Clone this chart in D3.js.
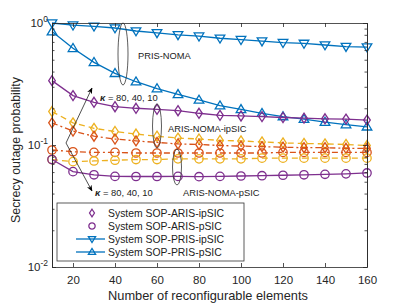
<!DOCTYPE html>
<html>
<head>
<meta charset="utf-8">
<script src="https://cdn.jsdelivr.net/npm/d3@7"></script>
<style>
  body { margin: 0; background: #fff; }
  text { font-family: "Liberation Sans", Arial, sans-serif; }
</style>
</head>
<body>
<div id="chart"></div>
<script>
// number of reconfigurable elements
var elements = [10, 20, 30, 40, 50, 60, 70, 80, 90, 100, 110, 120, 130, 140, 150, 160];

// ARIS, imperfect SIC (diamonds), kappa = 80, 40, 10
var arisIpsic80 = [0.337, 0.254, 0.224, 0.206, 0.200, 0.196, 0.191, 0.182, 0.175, 0.173, 0.171, 0.168, 0.166, 0.164, 0.163, 0.160];
var arisIpsic40 = [0.152, 0.130, 0.118, 0.112, 0.108, 0.105, 0.102, 0.101, 0.099, 0.098, 0.097, 0.096, 0.095, 0.095, 0.094, 0.094];
var arisIpsic10 = [0.188, 0.152, 0.137, 0.129, 0.123, 0.118, 0.114, 0.112, 0.109, 0.108, 0.106, 0.104, 0.103, 0.102, 0.101, 0.099];

// ARIS, perfect SIC (circles)
var arisPsic80 = [0.076, 0.0605, 0.057, 0.0553, 0.0552, 0.0552, 0.0553, 0.055, 0.0553, 0.0557, 0.056, 0.0565, 0.057, 0.0575, 0.058, 0.059];
var arisPsic40 = [0.091, 0.088, 0.087, 0.087, 0.086, 0.086, 0.086, 0.086, 0.086, 0.086, 0.086, 0.087, 0.087, 0.087, 0.087, 0.087];
var arisPsic10 = [0.076, 0.073, 0.074, 0.075, 0.076, 0.076, 0.077, 0.077, 0.077, 0.077, 0.078, 0.078, 0.078, 0.078, 0.078, 0.078];

// PRIS
var prisIpsic = [1.0, 0.96, 0.94, 0.91, 0.86, 0.83, 0.80, 0.78, 0.75, 0.73, 0.71, 0.69, 0.68, 0.66, 0.64, 0.635];
var prisPsic = [0.85, 0.62, 0.476, 0.387, 0.33, 0.29, 0.26, 0.234, 0.21, 0.196, 0.182, 0.171, 0.163, 0.154, 0.147, 0.141];

var xTicks = [20, 40, 60, 80, 100, 120, 140, 160];
var yTicks = [0.01, 0.1, 1];
var legendLabels = ["System SOP-ARIS-ipSIC", "System SOP-ARIS-pSIC", "System SOP-PRIS-ipSIC", "System SOP-PRIS-pSIC"];

var width = 406, height = 305;
var margin = { top: 23, right: 39, bottom: 38, left: 52 };
var w = width - margin.left - margin.right;
var h = height - margin.top - margin.bottom;

var blue = "#0072BD", purple = "#7E2F8E", orange = "#D95319", yellow = "#EDB120";

var svg = d3.select("#chart").append("svg")
    .attr("width", width)
    .attr("height", height);

var g = svg.append("g")
    .attr("transform", "translate(" + margin.left + "," + margin.top + ")");

var x = d3.scaleLinear().domain([10, 160]).range([0, w]);
var y = d3.scaleLog().domain([0.01, 1]).range([h, 0]);

// minor ticks for the log axis
var minor = [];
[0.01, 0.1].forEach(function(b) {
    for (var k = 2; k <= 9; k++) minor.push(b * k);
});

var series = [
    { values: prisIpsic, color: blue, marker: "down", dash: null },
    { values: prisPsic, color: blue, marker: "up", dash: null },
    { values: arisIpsic80, color: purple, marker: "diamond", dash: null },
    { values: arisIpsic10, color: yellow, marker: "diamond", dash: "6,4" },
    { values: arisIpsic40, color: orange, marker: "diamond", dash: "6,3,2,3" },
    { values: arisPsic40, color: orange, marker: "circle", dash: "6,3,2,3" },
    { values: arisPsic10, color: yellow, marker: "circle", dash: "6,4" },
    { values: arisPsic80, color: purple, marker: "circle", dash: null }
];

function markerPath(type, s) {
    if (type === "diamond") return "M0," + (-5 * s) + "L" + (3.3 * s) + ",0L0," + (5 * s) + "L" + (-3.3 * s) + ",0Z";
    if (type === "down") return "M" + (-4.8 * s) + "," + (-3.2 * s) + "L" + (4.8 * s) + "," + (-3.2 * s) + "L0," + (4.8 * s) + "Z";
    if (type === "up") return "M" + (-4.8 * s) + "," + (3.2 * s) + "L" + (4.8 * s) + "," + (3.2 * s) + "L0," + (-4.8 * s) + "Z";
    return null;
}

function drawMarker(sel, type, color, s) {
    s = s || 1;
    if (type === "circle") {
        sel.append("circle").attr("r", 4.2 * s)
            .attr("fill", "none").attr("stroke", color).attr("stroke-width", 1.3);
    } else {
        sel.append("path").attr("d", markerPath(type, s))
            .attr("fill", "none").attr("stroke", color).attr("stroke-width", 1.3);
    }
}

var line = d3.line()
    .x(function(d) { return x(d[0]); })
    .y(function(d) { return y(d[1]); });

var plot = g.append("g");

series.forEach(function(s) {
    var pts = elements.map(function(e, i) { return [e, s.values[i]]; });
    plot.append("path")
        .datum(pts)
        .attr("fill", "none")
        .attr("stroke", s.color)
        .attr("stroke-width", 1.3)
        .attr("stroke-dasharray", s.dash)
        .attr("d", line);
    pts.forEach(function(p) {
        var m = plot.append("g").attr("transform", "translate(" + x(p[0]) + "," + y(p[1]) + ")");
        drawMarker(m, s.marker, s.color);
    });
});

// axes (MATLAB-like box with inward ticks)
var axisColor = "#262626";
var xb = g.append("g").attr("transform", "translate(0," + h + ")")
    .call(d3.axisBottom(x).tickValues(xTicks).tickSizeInner(-4).tickSizeOuter(0).tickPadding(9));
var xt = g.append("g")
    .call(d3.axisTop(x).tickValues(xTicks).tickSizeInner(-4).tickSizeOuter(0).tickFormat(""));
var yl = g.append("g")
    .call(d3.axisLeft(y).tickValues(yTicks).tickSizeInner(-4).tickSizeOuter(0).tickFormat(""));
var yr = g.append("g").attr("transform", "translate(" + w + ",0)")
    .call(d3.axisRight(y).tickValues(yTicks).tickSizeInner(-4).tickSizeOuter(0).tickFormat(""));
var ylm = g.append("g")
    .call(d3.axisLeft(y).tickValues(minor).tickSizeInner(-2.5).tickSizeOuter(0).tickFormat(""));
var yrm = g.append("g").attr("transform", "translate(" + w + ",0)")
    .call(d3.axisRight(y).tickValues(minor).tickSizeInner(-2.5).tickSizeOuter(0).tickFormat(""));

[xb, xt, yl, yr, ylm, yrm].forEach(function(a) {
    a.selectAll("path, line").attr("stroke", axisColor).attr("stroke-width", 0.8);
    a.selectAll("text").attr("fill", axisColor).style("font-size", "11.5px")
        .style("font-family", "Liberation Sans, Arial, sans-serif");
});

// y tick labels as 10^n
yTicks.forEach(function(t) {
    var e = Math.round(Math.log10(t));
    var tx = g.append("text")
        .attr("x", -4)
        .attr("y", y(t) + 4)
        .attr("text-anchor", "end")
        .attr("fill", axisColor)
        .style("font-size", "11.5px");
    tx.append("tspan").text("10");
    tx.append("tspan").attr("dy", -5).style("font-size", "8.5px").text(e);
});

// axis labels
g.append("text")
    .attr("x", w / 2 - 1.5)
    .attr("y", h + 33)
    .attr("text-anchor", "middle")
    .attr("fill", axisColor)
    .style("font-size", "12.8px")
    .text("Number of reconfigurable elements");

g.append("text")
    .attr("transform", "translate(-32.5," + (h / 2 + 5) + ")rotate(-90)")
    .attr("text-anchor", "middle")
    .attr("fill", axisColor)
    .style("font-size", "12.4px")
    .text("Secrecy outage probability");

// annotations (pixel coords relative to svg)
var ann = svg.append("g");
function ellipse(cx, cy, rx, ry) {
    ann.append("ellipse").attr("cx", cx).attr("cy", cy).attr("rx", rx).attr("ry", ry)
        .attr("fill", "none").attr("stroke", "#333").attr("stroke-width", 0.8);
}
ellipse(123, 54, 5, 31);
ellipse(157, 126, 4.5, 22);
ellipse(177, 167, 4.5, 18);

function label(tx, ty, str) {
    ann.append("text").attr("x", tx).attr("y", ty).attr("fill", "#222")
        .style("font-size", "9.3px").text(str);
}
label(138, 59, "PRIS-NOMA");
label(168, 132, "ARIS-NOMA-ipSIC");
label(183, 196, "ARIS-NOMA-pSIC");

function kappa(tx, ty) {
    var t = ann.append("text").attr("x", tx).attr("y", ty).attr("fill", "#222").style("font-size", "9.4px");
    t.append("tspan").style("font-weight", "bold").style("font-style", "italic").text("\u03BA");
    t.append("tspan").text(" = 80, 40, 10");
}
kappa(100, 101);
kappa(95, 196);

svg.append("defs").append("marker")
    .attr("id", "arr")
    .attr("viewBox", "0 0 10 10")
    .attr("refX", 9).attr("refY", 5)
    .attr("markerWidth", 8).attr("markerHeight", 8)
    .attr("orient", "auto")
    .append("path").attr("d", "M0,1L10,5L0,9L3,5Z").attr("fill", "#000");

ann.append("line").attr("x1", 66).attr("y1", 143).attr("x2", 92).attr("y2", 88)
    .attr("stroke", "#222").attr("stroke-width", 0.8).attr("marker-end", "url(#arr)");
ann.append("line").attr("x1", 66).attr("y1", 143).attr("x2", 92).attr("y2", 191)
    .attr("stroke", "#222").attr("stroke-width", 0.8).attr("marker-end", "url(#arr)");

// legend
var lg = svg.append("g").attr("transform", "translate(57,203)");
lg.append("rect").attr("width", 187).attr("height", 58)
    .attr("fill", "#fff").attr("stroke", "#333").attr("stroke-width", 0.8);
var legendItems = [
    { marker: "diamond", color: purple, line: false },
    { marker: "circle", color: purple, line: false },
    { marker: "down", color: blue, line: true },
    { marker: "up", color: blue, line: true }
];
legendItems.forEach(function(it, i) {
    var yy = 10 + i * 13;
    if (it.line) {
        lg.append("line").attr("x1", 19).attr("x2", 48).attr("y1", yy).attr("y2", yy)
            .attr("stroke", it.color).attr("stroke-width", 1.3);
    }
    var m = lg.append("g").attr("transform", "translate(35," + yy + ")");
    drawMarker(m, it.marker, it.color, 0.75);
    lg.append("text").attr("x", 51).attr("y", yy + 4)
        .attr("fill", "#222").style("font-size", "10.4px").text(legendLabels[i]);
});
</script>
</body>
</html>
